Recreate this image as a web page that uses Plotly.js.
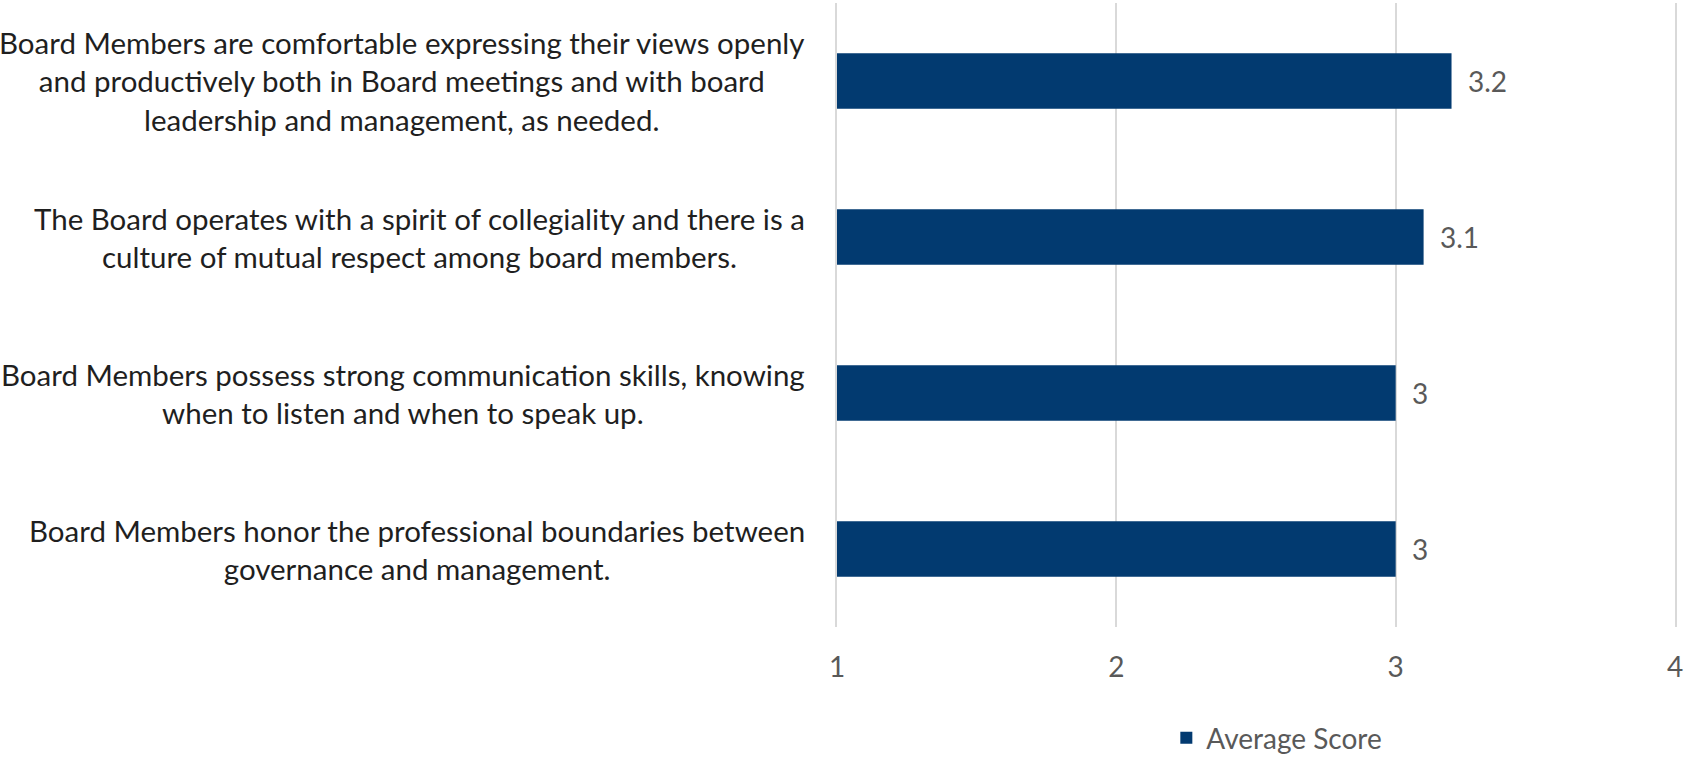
<!DOCTYPE html>
<html>
<head>
<meta charset="utf-8">
<script src="https://cdn.plot.ly/plotly-3.0.1.min.js"></script>
<style>html,body{margin:0;padding:0;background:#fff;}#chart{width:1684px;height:758px;}</style>
</head>
<body>
<div id="chart"></div>
<script>
const categories = [
  "Board Members are comfortable expressing their views openly<br>and productively both in Board meetings and with board<br>leadership and management, as needed.",
  "The Board operates with a spirit of collegiality and there is a<br>culture of mutual respect among board members.",
  "Board Members possess strong communication skills, knowing<br>when to listen and when to speak up.",
  "Board Members honor the professional boundaries between<br>governance and management."
];
const scores = [3.2, 3.1, 3, 3];
const valueLabels = ["3.2", "3.1", "3", "3"];
const xTicks = [1, 2, 3, 4];
const seriesName = "Average Score";

const barColor = "#023A70";
const grayText = "#595959";
const labelFont = "Lato, 'Open Sans', sans-serif";

const ids = categories.map((c, i) => "c" + i);

const trace = {
  type: "bar",
  orientation: "h",
  name: seriesName,
  y: ids,
  x: scores,
  base: 0,
  marker: {color: barColor, line: {width: 0}},
  showlegend: true,
  hoverinfo: "x"
};

const annotations = [];
categories.forEach((c, i) => {
  annotations.push({
    xref: "paper", yref: "y",
    x: 0, y: ids[i],
    xanchor: "right", yanchor: "middle",
    xshift: -30,
    text: c, align: "center", showarrow: false,
    font: {family: labelFont, size: 29.5, color: "#1f1f1f"}
  });
  annotations.push({
    xref: "x", yref: "y",
    x: scores[i], y: ids[i],
    xanchor: "left", yanchor: "middle",
    xshift: 14,
    text: valueLabels[i], showarrow: false,
    font: {family: labelFont, size: 28, color: grayText}
  });
});

const layout = {
  width: 1684, height: 758,
  margin: {l: 837, r: 9, t: 3, b: 131, pad: 0, autoexpand: false},
  paper_bgcolor: "#fff", plot_bgcolor: "#fff",
  bargap: 0.645,
  xaxis: {
    range: [1, 4],
    tickvals: xTicks,
    ticktext: xTicks.map(String),
    showgrid: true, gridcolor: "#d9d9d9", gridwidth: 2,
    zeroline: false, showline: false,
    ticks: "outside", ticklen: 15, tickcolor: "rgba(0,0,0,0)",
    tickfont: {family: labelFont, size: 28, color: grayText},
    automargin: false,
    fixedrange: true
  },
  yaxis: {
    autorange: "reversed",
    showticklabels: false,
    showgrid: false, zeroline: false,
    showline: true, mirror: true, linecolor: "#d9d9d9", linewidth: 2,
    ticks: "",
    automargin: false,
    fixedrange: true
  },
  showlegend: true,
  legend: {
    orientation: "h",
    x: 0.393, xanchor: "left",
    y: -0.178, yanchor: "middle",
    font: {family: labelFont, size: 28, color: grayText},
    bgcolor: "rgba(0,0,0,0)"
  },
  annotations: annotations
};

Plotly.newPlot("chart", [trace], layout, {displayModeBar: false, staticPlot: true});
</script>
</body>
</html>
